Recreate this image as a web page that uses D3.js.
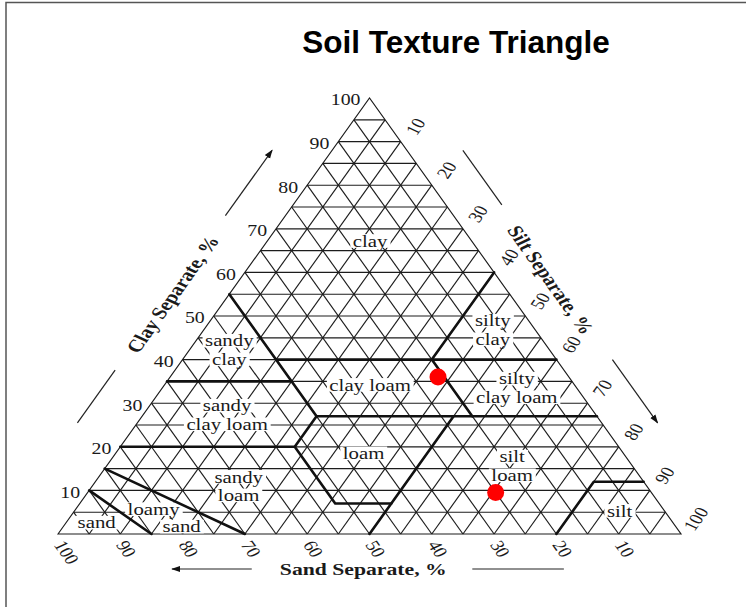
<!doctype html>
<html>
<head>
  <meta charset="utf-8">
  <title>soil texture triangle</title>
  <style>
    html, body { margin: 0; padding: 0; background: #fff; }
    svg { display: block; }
    .grid line, .edge { stroke: #1c1c1c; stroke-width: 1.15; fill: none; }
    .bound { stroke: #111; stroke-width: 2.6; fill: none; stroke-linecap: round; stroke-linejoin: round; }
    .serif { font-family: "Liberation Serif", "DejaVu Serif", serif; fill: #1a1a1a; }
    .tick { font-size: 16px; }
    .region { font-size: 16.8px; }
    .axis-title { font-size: 17.5px; font-weight: bold; }
    .deco { stroke: #222; stroke-width: 1.2; }
  </style>
</head>
<body>
  <div id="chart"></div>
  <script src="https://cdn.jsdelivr.net/npm/d3@7"></script>
  <script>
    // ---- data ----
    const tickValues = [10, 20, 30, 40, 50, 60, 70, 80, 90, 100];
    const gridValues = [5, 10, 15, 20, 25, 30, 35, 40, 45, 50, 55, 60, 65, 70, 75, 80, 85, 90, 95];

    // texture class boundaries, points as [clay %, silt %]
    const boundaries = [
      [[55, 0], [27, 28]],
      [[40, 15], [40, 60]],
      [[60, 40], [40, 40], [27, 53]],
      [[35, 0], [35, 20]],
      [[27, 28], [27, 73]],
      [[20, 0], [20, 28], [27, 28]],
      [[20, 28], [7, 41], [7, 50]],
      [[27, 50], [0, 50]],
      [[12, 88], [12, 80], [0, 80]],
      [[15, 0], [0, 30]],
      [[10, 0], [0, 15]]
    ];

    // region labels: text lines and the [clay %, silt %] centre of the block
    const regionNames = [['clay'], ['sandy', 'clay'], ['silty', 'clay'], ['clay loam'],
      ['silty', 'clay loam'], ['sandy', 'clay loam'], ['loam'], ['silt', 'loam'],
      ['sandy', 'loam'], ['sand'], ['silt']];
    const regionPos = [[67.2, 16.5], [42.2, 6.4], [46.8, 46.4], [34.2, 33], [33.5, 56.9],
      [27.3, 13.5], [18.5, 39.8], [15.6, 65.1], [11, 23.5], [2.6, 4.9], [5.3, 87.5]];
    // "loamy / sand" is set in two staggered pieces
    const loamySandPos = [[5.7, 12.5], [1.7, 19]];

    // samples
    const sampleClay = [36, 9.5];
    const sampleSilt = [43, 65.5];
    const sampleSand = [21, 25];

    // ---- layout ----
    const W = 746, H = 607;
    const SX = 1.24;      // the printed chart is stretched sideways
    const LINE = 18.6;    // line step inside a two-line label
    const x = d3.scaleLinear().domain([0, 100]).range([58, 681]);
    const y = d3.scaleLinear().domain([0, 100]).range([534, 98]);
    const pt = (clay, silt) => [x(silt + clay / 2), y(clay)];

    const svg = d3.select('#chart').append('svg').attr('width', W).attr('height', H);

    const defs = svg.append('defs');
    defs.append('marker').attr('id', 'head')
      .attr('viewBox', '0 0 10 10').attr('refX', 9).attr('refY', 5)
      .attr('markerWidth', 9).attr('markerHeight', 9).attr('markerUnits', 'userSpaceOnUse')
      .attr('orient', 'auto')
      .append('path').attr('d', 'M0,1.5L10,5L0,8.5Z').attr('fill', '#111');

    // frame
    svg.append('path').attr('d', `M6,${H}V2.5H${W}`).attr('fill', 'none')
      .attr('stroke', '#555').attr('stroke-width', 1.5);

    // title
    svg.append('text').attr('x', 456).attr('y', 53).attr('text-anchor', 'middle')
      .style('font-family', '"Liberation Sans", Arial, sans-serif')
      .style('font-weight', 'bold').style('font-size', '31.5px').style('fill', '#000')
      .text('Soil Texture Triangle');

    // grid: constant clay, constant silt, constant sand
    const grid = svg.append('g').attr('class', 'grid');
    const gridSegs = [];
    gridValues.forEach(v => {
      gridSegs.push([pt(v, 0), pt(v, 100 - v)]);
      gridSegs.push([pt(0, v), pt(100 - v, v)]);
      gridSegs.push([pt(0, 100 - v), pt(100 - v, 0)]);
    });
    grid.selectAll('line').data(gridSegs).join('line')
      .attr('x1', d => d[0][0]).attr('y1', d => d[0][1])
      .attr('x2', d => d[1][0]).attr('y2', d => d[1][1]);

    svg.append('path').attr('class', 'edge')
      .attr('d', d3.line()([pt(0, 0), pt(100, 0), pt(0, 100)]) + 'Z');

    // region labels (white backing hides the grid around the words)
    const labelG = svg.append('g');
    const addLabel = pieces => {
      // pieces: [text, px, py]
      const g = labelG.append('g');
      const t = g.append('text').attr('class', 'serif region').attr('transform', `scale(${SX},1)`);
      pieces.forEach(([txt, px, py]) => {
        t.append('tspan').attr('x', px / SX).attr('y', py)
          .attr('text-anchor', 'middle').attr('dominant-baseline', 'central').text(txt);
      });
      t.selectAll('tspan').each(function () {
        const bb = this.getBBox();
        g.insert('rect', 'text').attr('transform', `scale(${SX},1)`)
          .attr('x', bb.x - 2).attr('y', bb.y + 2.5)
          .attr('width', bb.width + 4).attr('height', bb.height - 5).attr('fill', '#fff');
      });
    };
    regionNames.forEach((lines, i) => {
      const [cx, cy] = pt(regionPos[i][0], regionPos[i][1]);
      addLabel(lines.map((ln, j) => [ln, cx, cy + (j - (lines.length - 1) / 2) * LINE]));
    });
    addLabel(['loamy', 'sand'].map((ln, j) => [ln, ...pt(loamySandPos[j][0], loamySandPos[j][1])]));

    // class boundaries
    svg.append('g').selectAll('path').data(boundaries).join('path')
      .attr('class', 'bound')
      .attr('d', d => d3.line()(d.map(p => pt(p[0], p[1]))));

    // tick labels
    const ticksG = svg.append('g').attr('class', 'serif tick');
    tickValues.forEach(v => {
      const [lx, ly] = pt(v, 0);
      ticksG.append('text').attr('transform', `translate(${lx - 9},${ly + 2}) scale(${SX},1)`)
        .attr('text-anchor', 'end').attr('dominant-baseline', 'central').text(v);
      const [rx, ry] = pt(100 - v, v);
      ticksG.append('text').attr('transform', `translate(${rx + 15},${ry - 15}) scale(${SX},1) rotate(-60)`)
        .attr('text-anchor', 'middle').attr('dominant-baseline', 'central').text(v);
      const [bx, by] = pt(0, 100 - v);
      ticksG.append('text').attr('transform', `translate(${bx + 1},${by + 8}) scale(${SX},1) rotate(60)`)
        .attr('text-anchor', 'start').attr('dominant-baseline', 'central').text(v);
    });

    // axis titles
    const cT = pt(55, 0);
    svg.append('text').attr('class', 'serif axis-title')
      .attr('transform', `translate(${cT[0] - 57},${cT[1]}) scale(${SX},1) rotate(-60)`)
      .attr('text-anchor', 'middle').attr('dominant-baseline', 'central').text('Clay Separate, %');
    const sT = pt(58.3, 41.7);
    svg.append('text').attr('class', 'serif axis-title')
      .attr('transform', `translate(${sT[0] + 51.5},${sT[1]}) scale(${SX},1) rotate(60)`)
      .attr('text-anchor', 'middle').attr('dominant-baseline', 'central').text('Silt Separate, %');
    svg.append('text').attr('class', 'serif axis-title')
      .attr('transform', `translate(${x(49)},${y(0) + 35}) scale(${SX},1)`)
      .attr('text-anchor', 'middle').attr('dominant-baseline', 'central').text('Sand Separate, %');

    // direction arrows beside each side
    const deco = svg.append('g').attr('class', 'deco');
    const leftAt = c => { const p = pt(c, 0); return [p[0] - 60, p[1]]; };
    const rightAt = s => { const p = pt(100 - s, s); return [p[0] + 56, p[1]]; };
    const baseAt = sand => [x(100 - sand), y(0) + 35];
    const decoLines = [
      [leftAt(25.5), leftAt(37.6), false],
      [leftAt(73), leftAt(88), true],
      [rightAt(12), rightAt(24.5), false],
      [rightAt(60), rightAt(74.5), true],
      [baseAt(68.9), baseAt(81.7), true],
      [baseAt(33.5), baseAt(18.8), false]
    ];
    decoLines.forEach(([a, b, head]) => {
      const l = deco.append('line').attr('x1', a[0]).attr('y1', a[1]).attr('x2', b[0]).attr('y2', b[1]);
      if (head) l.attr('marker-end', 'url(#head)');
    });

    // sample points
    svg.append('g').selectAll('circle').data(sampleClay).join('circle')
      .attr('cx', (d, i) => pt(d, sampleSilt[i])[0])
      .attr('cy', (d, i) => pt(d, sampleSilt[i])[1])
      .attr('r', 8.5).attr('fill', '#ff0000');
  </script>
</body>
</html>
